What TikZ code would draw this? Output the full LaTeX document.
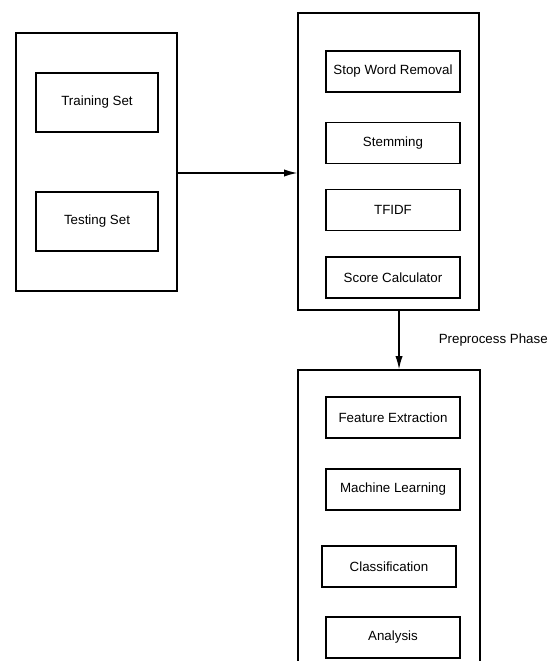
\documentclass[tikz,border=0pt]{standalone}
\usepackage{fontspec}
\setmainfont{Liberation Sans}
\usepackage{tikz}
\usetikzlibrary{positioning, arrows.meta}
\tikzstyle{outer} = [rectangle, draw=black, line width=1pt]
\tikzstyle{inner} = [rectangle, minimum width=100.5pt, minimum height=30.75pt, text centered, draw=black, line width=1pt, font=\fontsize{10}{12}\selectfont]
\tikzstyle{setbox} = [inner, minimum width=91.5pt, minimum height=44.25pt]
\tikzstyle{arrow} = [line width=1pt,-{Latex[length=10pt, width=5.5pt]}]

\begin{document}
\begin{tikzpicture}[x=0.75pt, y=-0.75pt]
			\useasboundingbox (0,0) rectangle (552,661);
			\clip (0,0) rectangle (552,661);
			% Nodes
			\node (dataset) [outer, minimum width=120.75pt, minimum height=193.5pt] at (96.5,162) {};
			\node (training) [setbox] at (97,102.5) {Training Set};
			\node (testing) [setbox] at (97,221.5) {Testing Set};
			
			\node (preprocess) [outer, minimum width=135.75pt, minimum height=222.75pt] at (388.5,161.5) {};
			\node (stopword) [inner] at (393,71.5) {Stop Word Removal};
			\node (stemming) [inner] at (393,143) {Stemming};
			\node (tfidf) [inner] at (393,210) {TFIDF};
			\node (score) [inner] at (393,277.5) {Score Calculator};
			
			\node (learning) [outer, minimum width=136.5pt, minimum height=247.5pt] at (389,535) {};
			\node (feature) [inner] at (393,417.5) {Feature Extraction};
			\node (machine) [inner] at (393,489.5) {Machine Learning};
			\node (classify) [inner] at (389,566.5) {Classification};
			\node (analysis) [inner] at (393,637.5) {Analysis};
			
			% Arrows
			\draw [arrow] ([yshift=-8.25pt]dataset.east) -- ([yshift=-8.25pt]dataset.east -| preprocess.west);
			\draw [arrow] ([xshift=7.9pt]preprocess.south) -- node (phase) [anchor=west, xshift=26pt, font=\fontsize{10}{12}\selectfont] {Preprocess Phase} ([xshift=7.9pt]preprocess.south |- learning.north);
		\end{tikzpicture}
\end{document}
